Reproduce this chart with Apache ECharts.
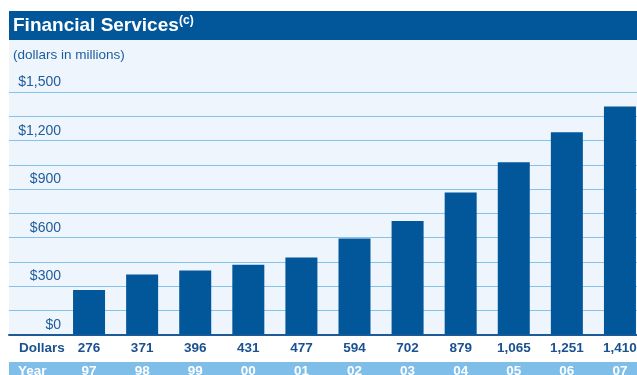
<!DOCTYPE html>
<html>
<head>
<meta charset="utf-8">
<script src="https://cdn.jsdelivr.net/npm/echarts@6/dist/echarts.min.js"></script>
<style>
  html, body { margin: 0; padding: 0; background: #ffffff; }
  #chart { width: 637px; height: 375px; }
</style>
</head>
<body>
<div id="chart"></div>
<script>
// Financial Services earnings, dollars in millions, by year
const years = ['97', '98', '99', '00', '01', '02', '03', '04', '05', '06', '07'];
const dollars = [276, 371, 396, 431, 477, 594, 702, 879, 1065, 1251, 1410];
const yTickLabels = [0, 300, 600, 900, 1200, 1500];

const FONT = "'Liberation Sans', Arial, sans-serif";
const DARK = '#02579b';
const TEXT = '#1f5c9c';
const GRID_LINE = '#86c3ea';
const PANEL = '#eef5fd';
const BAND = '#7fbee8';

const fmt = v => v.toLocaleString('en-US');

const chart = echarts.init(document.getElementById('chart'), null, { renderer: 'canvas' });

const plotTop = 92;
const plotHeight = 242.5;

chart.setOption({
  animation: false,
  backgroundColor: '#ffffff',
  graphic: [
    // light panel behind the plot
    { type: 'rect', z: -10, silent: true, shape: { x: 9, y: 40, width: 628, height: 295 }, style: { fill: PANEL } },
    // header band
    { type: 'rect', z: -10, silent: true, shape: { x: 9, y: 11, width: 628, height: 29 }, style: { fill: DARK } },
    // year band at the foot
    { type: 'rect', z: -10, silent: true, shape: { x: 9, y: 362, width: 628, height: 13 }, style: { fill: BAND } },
    { type: 'text', z: 10, silent: true, x: 13, y: 26,
      style: { text: 'Financial Services', fill: '#ffffff', font: 'bold 19px ' + FONT, textVerticalAlign: 'middle' } },
    { type: 'text', z: 10, silent: true, x: 179, y: 21,
      style: { text: '(c)', fill: '#ffffff', font: 'bold 12px ' + FONT, textVerticalAlign: 'middle' } },
    { type: 'text', z: 10, silent: true, x: 13, y: 55,
      style: { text: '(dollars in millions)', fill: TEXT, font: '13.5px ' + FONT, textVerticalAlign: 'middle' } },
    { type: 'text', z: 10, silent: true, x: 19, y: 348.5,
      style: { text: 'Dollars', fill: '#1a5190', font: 'bold 13.5px ' + FONT, textVerticalAlign: 'middle' } },
    { type: 'text', z: 10, silent: true, x: 18, y: 371.5,
      style: { text: 'Year', fill: '#ffffff', font: 'bold 13.5px ' + FONT, textVerticalAlign: 'middle' } }
  ],
  grid: [
    // full-width grid carrying the value scale and its guide lines
    { left: 9, right: 0, top: plotTop, height: plotHeight, outerBoundsMode: 'none', containLabel: false },
    // grid holding the bars, one category per year
    { left: 62.5, width: 584, top: plotTop, height: plotHeight, outerBoundsMode: 'none', containLabel: false }
  ],
  xAxis: [
    {
      gridIndex: 0, type: 'value', min: 0, max: 1,
      axisLine: { show: true, lineStyle: { color: '#1d5a98', width: 2 } },
      axisTick: { show: false }, axisLabel: { show: false }, splitLine: { show: false }
    },
    {
      gridIndex: 1, type: 'category', data: years,
      axisLine: { show: false }, axisTick: { show: false },
      axisLabel: {
        interval: 0, margin: 3,
        formatter: (val, idx) => '{v|' + fmt(dollars[idx]) + '}\n{y|' + val + '}',
        rich: {
          v: { fontFamily: FONT, fontWeight: 'bold', fontSize: 13.5, color: '#1a5190', lineHeight: 22 },
          y: { fontFamily: FONT, fontWeight: 'bold', fontSize: 13.5, color: '#ffffff', lineHeight: 24 }
        }
      }
    }
  ],
  yAxis: [
    {
      gridIndex: 0, type: 'value', min: 0, max: 1500, interval: 150,
      axisLine: { show: false }, axisTick: { show: false },
      splitLine: { show: true, lineStyle: { color: GRID_LINE, width: 1 } },
      axisLabel: {
        margin: -52, align: 'right', verticalAlign: 'bottom', lineHeight: 19,
        fontFamily: FONT, fontSize: 14, color: TEXT,
        formatter: v => yTickLabels.includes(v) ? '$' + fmt(v) : ''
      }
    },
    {
      gridIndex: 1, type: 'value', min: 0, max: 1500, interval: 150, show: false
    }
  ],
  series: [
    {
      type: 'bar', xAxisIndex: 1, yAxisIndex: 1,
      data: dollars, barWidth: 32, z: 5,
      itemStyle: { color: DARK }
    }
  ]
});
</script>
</body>
</html>
